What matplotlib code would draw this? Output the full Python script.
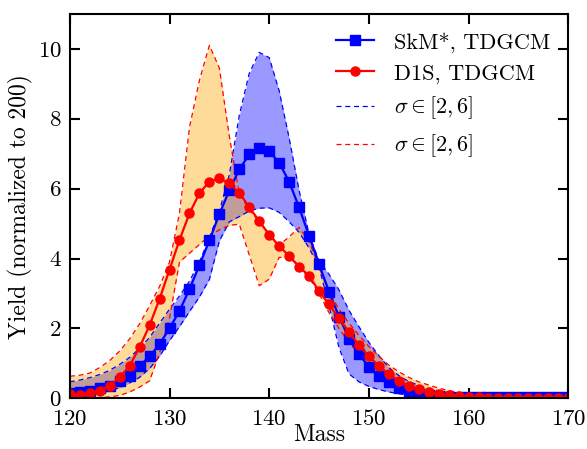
import numpy as np
import matplotlib
matplotlib.use("Agg")
import matplotlib.pyplot as plt

plt.rcParams["font.family"] = "serif"
plt.rcParams["font.serif"] = ["cmr10"]
plt.rcParams["mathtext.fontset"] = "cm"
plt.rcParams["axes.formatter.use_mathtext"] = True

mass = np.arange(120, 171)

# TDGCM yields
skm = [0.15, 0.19, 0.22, 0.29, 0.36, 0.5, 0.65, 0.93, 1.2, 1.55,
       2.0, 2.5, 3.12, 3.81, 4.52, 5.27, 5.95, 6.55, 6.98, 7.16,
       7.07, 6.74, 6.2, 5.46, 4.65, 3.84, 3.05, 2.34, 1.71, 1.27,
       0.89, 0.65, 0.46, 0.29, 0.17, 0.12, 0.08, 0.06, 0.05, 0.04,
       0.04, 0.04, 0.04, 0.04, 0.04, 0.04, 0.04, 0.04, 0.04, 0.04, 0.04]
d1s = [0.12, 0.1, 0.14, 0.22, 0.36, 0.6, 0.93, 1.46, 2.09, 2.84,
       3.68, 4.53, 5.29, 5.87, 6.2, 6.29, 6.15, 5.88, 5.47, 5.07,
       4.68, 4.36, 4.07, 3.77, 3.5, 3.07, 2.69, 2.29, 1.9, 1.52,
       1.2, 0.93, 0.69, 0.5, 0.36, 0.26, 0.17, 0.12, 0.08, 0.06,
       0.04, 0.03, 0.02, 0.02, 0.02, 0.02, 0.02, 0.02, 0.02, 0.02, 0.02]

# sigma in [2,6] envelopes
skm_hi = [0.47, 0.52, 0.59, 0.68, 0.8, 0.97, 1.17, 1.43, 1.74, 2.15,
          2.55, 2.93, 3.35, 3.9, 4.6, 5.35, 6.4, 8.1, 9.3, 9.9,
          9.75, 8.8, 7.45, 5.95, 4.7, 3.93, 3.55, 3.1, 2.52, 2.05,
          1.6, 1.22, 0.88, 0.65, 0.48, 0.37, 0.28, 0.21, 0.15, 0.11,
          0.08, 0.06, 0.05, 0.04, 0.03, 0.03, 0.03, 0.03, 0.03, 0.03, 0.03]
skm_lo = [0.07, 0.08, 0.1, 0.14, 0.22, 0.3, 0.44, 0.6, 0.85, 1.2,
          1.65, 2.05, 2.48, 2.9, 3.4, 4.5, 5.05, 5.2, 5.36, 5.44,
          5.45, 5.32, 5.05, 4.75, 4.3, 3.75, 2.65, 1.45, 0.7, 0.47,
          0.34, 0.25, 0.18, 0.13, 0.09, 0.06, 0.04, 0.03, 0.02, 0.02,
          0.02, 0.02, 0.02, 0.02, 0.02, 0.02, 0.02, 0.02, 0.02, 0.02, 0.02]
d1s_hi = [0.63, 0.66, 0.72, 0.88, 1.08, 1.35, 1.7, 2.13, 2.65, 3.2,
          3.9, 5.3, 7.75, 9.1, 10.1, 9.45, 7.5, 5.85, 5.4, 5.05,
          4.7, 4.38, 4.62, 4.89, 4.5, 3.75, 3.05, 2.55, 2.15, 1.8,
          1.48, 1.2, 0.95, 0.76, 0.6, 0.47, 0.38, 0.29, 0.22, 0.17,
          0.12, 0.09, 0.07, 0.05, 0.04, 0.03, 0.02, 0.02, 0.02, 0.02, 0.02]
d1s_lo = [0.0, 0.0, 0.01, 0.02, 0.04, 0.08, 0.18, 0.32, 0.5, 1.3,
          2.3, 3.9, 4.15, 4.4, 4.65, 4.82, 4.95, 4.98, 4.1, 3.22,
          3.41, 4.03, 4.05, 3.75, 3.45, 3.0, 2.45, 2.0, 1.6, 1.25,
          0.95, 0.7, 0.5, 0.35, 0.25, 0.17, 0.12, 0.08, 0.05, 0.04,
          0.03, 0.02, 0.01, 0.01, 0.01, 0.01, 0.01, 0.01, 0.01, 0.01, 0.01]

fig = plt.figure(figsize=(5.87, 4.49), dpi=100)
ax = fig.add_axes([0.119, 0.113, 0.849, 0.856])

ax.fill_between(mass, skm_lo, skm_hi, color="blue", alpha=0.4, lw=0)
ax.plot(mass, skm_hi, "b--", lw=0.9, dashes=(4, 3))
ax.plot(mass, skm_lo, "b--", lw=0.9, dashes=(4, 3), label=r"$\sigma\in[2,6]$")
ax.fill_between(mass, d1s_lo, d1s_hi, color="orange", alpha=0.4, lw=0)
ax.plot(mass, d1s_hi, "r--", lw=0.9, dashes=(4, 3))
ax.plot(mass, d1s_lo, "r--", lw=0.9, dashes=(4, 3), label=r"$\sigma\in[2,6]$")

ax.plot(mass, skm, "bs-", lw=1.6, ms=6.5, label="SkM*, TDGCM")
ax.plot(mass, d1s, "ro-", lw=1.6, ms=6.5, label="D1S, TDGCM")

handles, labels = ax.get_legend_handles_labels()
order = [2, 3, 0, 1]
ax.legend([handles[i] for i in order], [labels[i] for i in order],
          loc="upper right", frameon=False, fontsize=16, labelspacing=0.5,
          handlelength=1.7, handletextpad=0.9, borderaxespad=0.4)

ax.set_xlim(120, 170)
ax.set_ylim(0, 11)
ax.set_xticks([120, 130, 140, 150, 160, 170])
ax.set_yticks([0, 2, 4, 6, 8, 10])
ax.set_xlabel("Mass", fontsize=17, labelpad=-4)
ax.set_ylabel("Yield (normalized to 200)", fontsize=17, labelpad=3)
ax.tick_params(direction="in", top=True, right=True, length=7, width=1.5,
               labelsize=16.5)
ax.tick_params(axis="x", pad=8)
ax.tick_params(axis="y", pad=6)
for s in ax.spines.values():
    s.set_linewidth(1.5)

plt.savefig("out.png", dpi=100)
